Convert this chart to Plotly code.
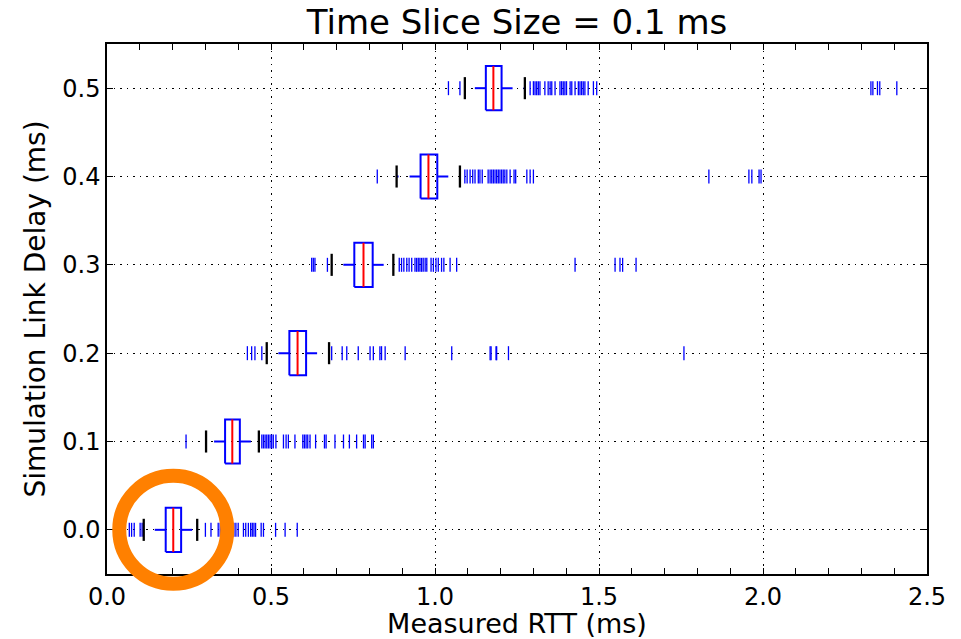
import plotly.graph_objects as go

# ---------------- data ----------------
delays = [0.0, 0.1, 0.2, 0.3, 0.4, 0.5]
whisker_lo = [0.112, 0.302, 0.487, 0.685, 0.883, 1.091]
q1 = [0.179, 0.360, 0.556, 0.754, 0.956, 1.155]
median = [0.202, 0.382, 0.581, 0.782, 0.980, 1.178]
q3 = [0.226, 0.405, 0.607, 0.810, 1.007, 1.203]
whisker_hi = [0.275, 0.463, 0.677, 0.873, 1.076, 1.274]

outliers_00 = [0.068, 0.075, 0.083, 0.101, 0.107,
               0.300, 0.317, 0.339, 0.345, 0.363, 0.387, 0.393, 0.400, 0.416,
               0.423, 0.431, 0.438, 0.443, 0.448, 0.453, 0.470, 0.477, 0.514,
               0.543, 0.580]
outliers_01 = [0.241,
               0.472, 0.477, 0.482, 0.487, 0.492, 0.497, 0.502, 0.507, 0.515,
               0.538, 0.546, 0.553, 0.573, 0.597, 0.602, 0.607, 0.612, 0.619,
               0.636, 0.663, 0.668, 0.695, 0.721, 0.739, 0.761, 0.782, 0.787,
               0.807, 0.812]
outliers_02 = [0.428, 0.441, 0.451, 0.472,
               0.685, 0.717, 0.731, 0.766, 0.802, 0.812, 0.832, 0.837, 0.848,
               0.909, 1.051, 1.168, 1.171, 1.186, 1.188, 1.224, 1.759]
outliers_03 = [0.624, 0.629, 0.634, 0.672,
               0.891, 0.898, 0.905, 0.914, 0.921, 0.929, 0.939, 0.944, 0.949,
               0.954, 0.959, 0.964, 0.970, 0.975, 0.988, 0.995, 1.003, 1.010,
               1.020, 1.027, 1.046, 1.066, 1.427, 1.549, 1.564, 1.572, 1.613]
outliers_04 = [0.824,
               1.091, 1.098, 1.107, 1.115, 1.122, 1.132, 1.137, 1.144, 1.162,
               1.168, 1.173, 1.178, 1.183, 1.188, 1.193, 1.198, 1.203, 1.208,
               1.213, 1.219, 1.229, 1.241, 1.246, 1.280, 1.290, 1.300,
               1.835, 1.957, 1.966, 1.988, 1.994]
outliers_05 = [1.041, 1.076,
               1.290, 1.300, 1.305, 1.310, 1.315, 1.320, 1.335, 1.345, 1.351,
               1.356, 1.366, 1.381, 1.386, 1.391, 1.396, 1.401, 1.412, 1.417,
               1.427, 1.437, 1.442, 1.447, 1.452, 1.457, 1.467, 1.483, 1.493,
               2.329, 2.335, 2.349, 2.356, 2.408]
outliers = [outliers_00, outliers_01, outliers_02, outliers_03, outliers_04, outliers_05]

x_ticks = [0.0, 0.5, 1.0, 1.5, 2.0, 2.5]
y_ticks = delays

title_text = "Time Slice Size = 0.1 ms"
x_label = "Measured RTT (ms)"
y_label = "Simulation Link Delay (ms)"

# ---------------- geometry helpers ----------------
X_RANGE = [0.0, 2.5]
Y_RANGE = [-0.05, 0.55]
BOX_HALF = 0.025
CAP_HALF = 0.0125

FONT = "DejaVu Sans"
BLUE = "#0000ff"

fig = go.Figure()

# outliers (+ markers, horizontal stroke sits on the row line)
for d, vals in zip(delays, outliers):
    fig.add_trace(go.Scatter(
        x=vals, y=[d] * len(vals), mode="markers",
        marker=dict(symbol="line-ns", size=10,
                    line=dict(color=BLUE, width=1.3), color=BLUE),
        hoverinfo="skip", showlegend=False))

# whiskers (dashed blue, drawn from box edge outward)
for d, lo, a, b, hi in zip(delays, whisker_lo, q1, q3, whisker_hi):
    for xs in ([a, lo], [b, hi]):
        fig.add_trace(go.Scatter(
            x=xs, y=[d, d], mode="lines",
            line=dict(color=BLUE, width=2, dash="11px,11px"),
            hoverinfo="skip", showlegend=False))

# caps (black)
cx, cy = [], []
for d, lo, hi in zip(delays, whisker_lo, whisker_hi):
    for v in (lo, hi):
        cx += [v, v, None]
        cy += [d - CAP_HALF, d + CAP_HALF, None]
fig.add_trace(go.Scatter(x=cx, y=cy, mode="lines",
                         line=dict(color="black", width=2.3),
                         hoverinfo="skip", showlegend=False))

# boxes (blue outline)
bx, by = [], []
for d, a, b in zip(delays, q1, q3):
    bx += [a, b, b, a, a, None]
    by += [d - BOX_HALF, d - BOX_HALF, d + BOX_HALF, d + BOX_HALF, d - BOX_HALF, None]
fig.add_trace(go.Scatter(x=bx, y=by, mode="lines",
                         line=dict(color=BLUE, width=2),
                         hoverinfo="skip", showlegend=False))

# medians (red)
mx, my = [], []
for d, m in zip(delays, median):
    mx += [m, m, None]
    my += [d - BOX_HALF, d + BOX_HALF, None]
fig.add_trace(go.Scatter(x=mx, y=my, mode="lines",
                         line=dict(color="#ff0000", width=2),
                         hoverinfo="skip", showlegend=False))

# ---------------- layout ----------------
W, H = 961, 639
ML, MR, MT, MB = 107, 34, 44, 65
PW, PH = W - ML - MR, H - MT - MB

# orange highlight ring around the first box (paper coordinates)
cxp = (median[0] - X_RANGE[0]) / (X_RANGE[1] - X_RANGE[0])
cyp = (delays[0] - Y_RANGE[0]) / (Y_RANGE[1] - Y_RANGE[0])
R = 54
fig.add_shape(type="circle", xref="paper", yref="paper",
              x0=cxp - R / PW, x1=cxp + R / PW,
              y0=cyp - R / PH, y1=cyp + R / PH,
              line=dict(color="#ff8000", width=14), layer="above")

axis_common = dict(
    showline=True, linecolor="black", linewidth=1.5, mirror="allticks",
    ticks="inside", ticklen=6, tickwidth=1, tickcolor="black",
    showgrid=True, gridcolor="black", griddash="1.5px,5px", gridwidth=1,
    zeroline=False, tickformat=".1f", automargin=False,
    tickfont=dict(family=FONT, size=24, color="black"),
)

fig.update_layout(
    width=W, height=H,
    margin=dict(l=ML, r=MR, t=MT, b=MB, pad=0, autoexpand=False),
    paper_bgcolor="white", plot_bgcolor="white",
    title=dict(text=title_text, x=(ML + PW / 2) / W, xanchor="center",
               y=1 - 22 / H, yanchor="middle",
               font=dict(family=FONT, size=34, color="black")),
    xaxis=dict(range=X_RANGE, tickvals=x_ticks,
               title=dict(text=x_label, font=dict(family=FONT, size=27, color="black"),
                          standoff=8),
               minor=dict(dtick=0.1, tick0=0, ticks="inside", ticklen=6,
                          tickcolor="black", showgrid=False),
               **axis_common),
    yaxis=dict(range=Y_RANGE, tickvals=y_ticks,
               title=dict(text=y_label, font=dict(family=FONT, size=28, color="black"),
                          standoff=8),
               **axis_common),
    showlegend=False,
)

fig.write_html("out.html")
